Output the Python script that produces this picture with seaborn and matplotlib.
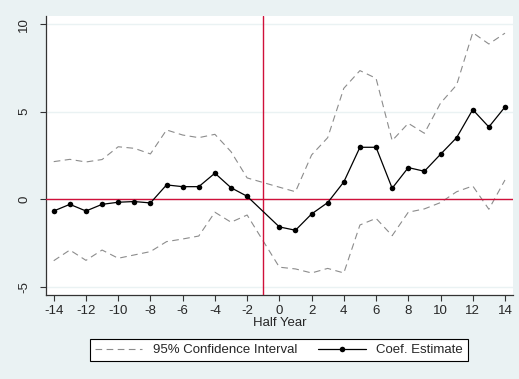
import numpy as np
import pandas as pd
import matplotlib
matplotlib.use("Agg")
import matplotlib.pyplot as plt
import seaborn as sns

# Event-time periods (half years); -1 is the omitted reference period
periods = [-14, -13, -12, -11, -10, -9, -8, -7, -6, -5, -4, -3, -2,
           0, 1, 2, 3, 4, 5, 6, 7, 8, 9, 10, 11, 12, 13, 14]

coef = [-0.67, -0.29, -0.67, -0.29, -0.17, -0.13, -0.21, 0.82, 0.72, 0.72,
        1.49, 0.66, 0.17,
        -1.58, -1.77, -0.84, -0.19, 0.99, 2.97, 2.97, 0.63, 1.81, 1.60, 2.57,
        3.52, 5.12, 4.13, 5.27]

ci_upper = [2.15, 2.28, 2.13, 2.27, 3.00, 2.91, 2.59, 3.96, 3.67, 3.52,
            3.71, 2.72, 1.22,
            0.69, 0.43, 2.53, 3.52, 6.34, 7.35, 6.91, 3.35, 4.34, 3.77, 5.49,
            6.53, 9.52, 8.87, 9.49]

ci_lower = [-3.51, -2.90, -3.49, -2.90, -3.37, -3.18, -2.99, -2.42, -2.27, -2.10,
            -0.74, -1.31, -0.90,
            -3.88, -3.98, -4.21, -3.95, -4.21, -1.47, -1.09, -2.08, -0.74, -0.55, -0.19,
            0.43, 0.76, -0.57, 1.10]

x_ticks = list(range(-14, 15, 2))
y_ticks = [-5, 0, 5, 10]

df = pd.DataFrame({"period": periods, "coef": coef,
                   "upper": ci_upper, "lower": ci_lower})

sns.set_style("white")
plt.rcParams["font.family"] = ["Liberation Sans", "DejaVu Sans"]

bg = "#EAF2F3"
fs = 9.5
fig = plt.figure(figsize=(5.19, 3.79), dpi=100, facecolor=bg)
ax = fig.add_axes([0.088, 0.2216, 0.9005, 0.7362])
ax.set_facecolor("white")

dash_style = (0, (6, 4))
ci_color = "#8C8C8C"
ref_color = "#D0103A"

sns.lineplot(data=df, x="period", y="upper", ax=ax, color=ci_color,
             linewidth=0.8, linestyle=dash_style, label="95% Confidence Interval")
sns.lineplot(data=df, x="period", y="lower", ax=ax, color=ci_color,
             linewidth=0.8, linestyle=dash_style, label="_nolegend_")

# Reference lines at zero effect and at the treatment date
ax.axhline(0, color=ref_color, linewidth=1.0, zorder=3)
ax.axvline(-1, color=ref_color, linewidth=1.0, zorder=3)

sns.lineplot(data=df, x="period", y="coef", ax=ax, color="black",
             linewidth=0.9, marker="o", markersize=4, markeredgewidth=0,
             label="Coef. Estimate", zorder=4)

ax.set_xlim(-14.5, 14.5)
ax.set_ylim(-5.47, 10.47)
ax.set_xticks(x_ticks)
ax.set_yticks(y_ticks)
ax.set_xticklabels([str(t) for t in x_ticks], fontsize=fs)
ax.set_yticklabels([str(t) for t in y_ticks], fontsize=fs, rotation=90, va="center")
ax.set_xlabel("Half Year", fontsize=fs, labelpad=0)
ax.set_ylabel("")

ax.grid(axis="y", color=bg, linewidth=1.0)
ax.set_axisbelow(True)
for side in ["top", "right"]:
    ax.spines[side].set_visible(False)
for side in ["left", "bottom"]:
    ax.spines[side].set_color("#333333")
    ax.spines[side].set_linewidth(0.9)
ax.tick_params(axis="both", direction="out", length=4, width=0.8,
               color="#333333", left=True, bottom=True)
ax.tick_params(axis="x", pad=3.5)
ax.tick_params(axis="y", pad=7)

handles, labels = ax.get_legend_handles_labels()
ax.get_legend().remove()
leg = fig.legend(handles, labels, loc="center", bbox_to_anchor=(0.5376, 0.0765),
                 ncol=2, fontsize=fs, frameon=True, fancybox=False,
                 handlelength=3.6, handletextpad=0.8, columnspacing=1.6,
                 borderpad=0.4)
leg.get_frame().set_edgecolor("black")
leg.get_frame().set_linewidth(0.8)
leg.get_frame().set_facecolor("white")
leg.get_frame().set_alpha(1)

fig.savefig("out.png", dpi=100, facecolor=bg)
